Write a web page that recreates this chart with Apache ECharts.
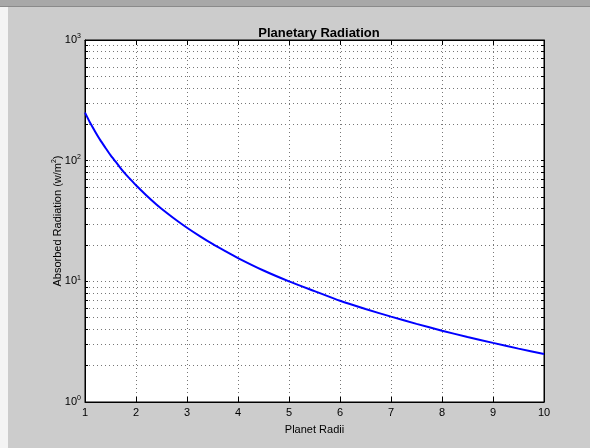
<!DOCTYPE html>
<html>
<head>
<meta charset="utf-8">
<script src="https://cdn.jsdelivr.net/npm/echarts@6/dist/echarts.min.js"></script>
<style>
  html, body { margin: 0; padding: 0; }
  body { width: 590px; height: 448px; position: relative; background: #cccccc; overflow: hidden; }
  #frameTop { position: absolute; left: 0; top: 0; width: 590px; height: 7px; background: #a8a8a8; border-bottom: 1px solid #8a8a8a; box-sizing: border-box; }
  #frameLeft { position: absolute; left: 0; top: 7px; width: 8px; height: 441px; background: #f4f4f4; }
  #main { position: absolute; left: 0; top: 0; width: 590px; height: 448px; }
</style>
</head>
<body>
<div id="frameTop"></div>
<div id="frameLeft"></div>
<div id="main"></div>
<script>
// planet radius vs absorbed radiation
var radii = [1, 1.1, 1.2, 1.3, 1.4, 1.5, 1.6, 1.7, 1.8, 1.9, 2, 2.2, 2.4, 2.6, 2.8, 3, 3.25, 3.5, 3.75, 4,
  4.5, 5, 5.5, 6, 6.5, 7, 7.5, 8, 8.5, 9, 9.5, 10]
var radiation = [250, 206, 174, 148, 128, 111, 98, 86.5, 77, 69.3, 62.5, 51.7, 43.4, 37, 31.9, 27.8, 23.7, 20.4, 17.8, 15.6,
  12.3, 10, 8.3, 6.9, 5.9, 5.1, 4.44, 3.9, 3.46, 3.09, 2.77, 2.5]

var xTicks = [1, 2, 3, 4, 5, 6, 7, 8, 9, 10]
var yLabels = [1, 10, 100, 1000]
var yTicks = [1, 2, 3, 4, 5, 6, 7, 8, 9, 10, 20, 30, 40, 50, 60, 70, 80, 90, 100,
  200, 300, 400, 500, 600, 700, 800, 900, 1000]

var font = 'Liberation Sans, Arial, Helvetica, sans-serif'
var dotted = { color: '#777777', width: 1, type: [1, 3] }

var myChart = echarts.init(document.getElementById('main'), null, { renderer: 'canvas' })

var option = {
  animation: false,
  backgroundColor: 'transparent',
  title: {
    text: 'Planetary Radiation',
    left: 314,
    textAlign: 'center',
    top: 22,
    textStyle: { fontFamily: font, fontSize: 13, fontWeight: 'bold', color: '#000' }
  },
  grid: {
    left: 85,
    right: 46,
    top: 40,
    bottom: 46,
    show: true,
    backgroundColor: '#ffffff',
    borderColor: '#000',
    borderWidth: 1
  },
  xAxis: [
    {
      type: 'value',
      min: 1,
      max: 10,
      interval: 1,
      name: 'Planet Radii',
      nameLocation: 'middle',
      nameGap: 22,
      nameMoveOverlap: false,
      nameTextStyle: { fontFamily: font, fontSize: 11, color: '#000' },
      axisLine: { show: true, lineStyle: { color: '#000', width: 1 } },
      axisTick: { show: true, inside: true, length: 5, customValues: xTicks, lineStyle: { color: '#000' } },
      axisLabel: { fontFamily: font, fontSize: 11, color: '#000', margin: 5 },
      splitLine: { show: true, lineStyle: dotted }
    },
    {
      type: 'value',
      position: 'top',
      min: 1,
      max: 10,
      interval: 1,
      axisLine: { show: true, lineStyle: { color: '#000', width: 1 } },
      axisTick: { show: true, inside: true, length: 5, lineStyle: { color: '#000' } },
      axisLabel: { show: false },
      splitLine: { show: false }
    }
  ],
  yAxis: [
    {
      type: 'log',
      logBase: 10,
      min: 1,
      max: 1000,
      name: 'Absorbed Radiation (w/m{s|2})',
      nameLocation: 'middle',
      nameGap: 20,
      nameMoveOverlap: false,
      nameRotate: 90,
      nameTextStyle: {
        fontFamily: font, fontSize: 11, color: '#000',
        rich: { s: { fontFamily: font, fontSize: 7, color: '#000', padding: [0, 0, 7, 0] } }
      },
      axisLine: { show: true, lineStyle: { color: '#000', width: 1 } },
      axisTick: { show: true, inside: true, length: 3, customValues: yTicks, lineStyle: { color: '#000' } },
      axisLabel: {
        customValues: yLabels,
        margin: 4,
        formatter: function (v) {
          return '{b|10}{s|' + Math.round(Math.log10(v)) + '}'
        },
        rich: {
          b: { fontFamily: font, fontSize: 11, color: '#000' },
          s: { fontFamily: font, fontSize: 7, color: '#000', padding: [0, 0, 7, 0] }
        }
      },
      splitLine: { show: true, lineStyle: dotted }
    },
    {
      type: 'log',
      logBase: 10,
      min: 1,
      max: 1000,
      position: 'right',
      axisLine: { show: true, lineStyle: { color: '#000', width: 1 } },
      axisTick: { show: true, inside: true, length: 3, customValues: yTicks, lineStyle: { color: '#000' } },
      axisLabel: { show: false },
      splitLine: { show: false }
    }
  ],
  series: [
    {
      name: 'Radiation',
      type: 'line',
      data: radii.map(function (r, i) { return [r, radiation[i]] }),
      smooth: 0.2,
      showSymbol: false,
      lineStyle: { color: '#0000ff', width: 2 },
      itemStyle: { color: '#0000ff' },
      z: 5
    }
  ]
}

myChart.setOption(option)
</script>
</body>
</html>
